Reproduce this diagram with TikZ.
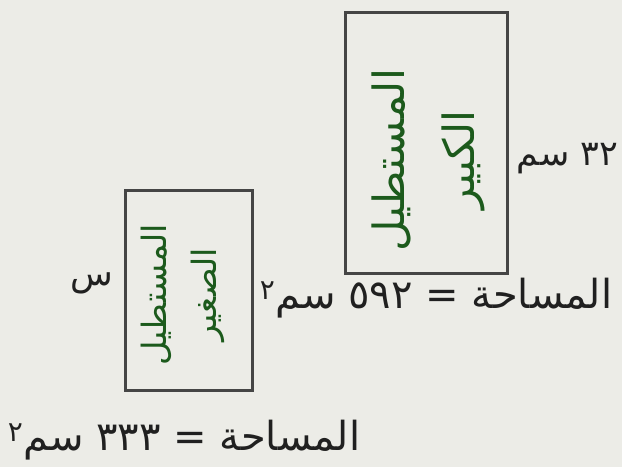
\documentclass[tikz,border=0pt]{standalone}
\usepackage{fontspec}
\newfontfamily\arabicfont[Script=Arabic]{DejaVu Sans}
\TeXXeTstate=1
\usetikzlibrary{positioning}

\definecolor{paper}{HTML}{ECECE7}
\definecolor{frame}{HTML}{454545}
\definecolor{leaf}{HTML}{1C5A1C}
\definecolor{ink}{HTML}{202020}

\begin{document}
\begin{tikzpicture}[x=1pt, y=-1pt,
    box/.style={draw=frame, line width=3pt, inner sep=0pt},
    rectname/.style={text=leaf, rotate=90, align=center, inner sep=0pt},
    lbl/.style={text=ink, inner sep=0pt, font=\arabicfont\fontsize{35}{40}\selectfont},
    area/.style={lbl, font=\arabicfont\fontsize{40}{46}\selectfont}]
  \fill[paper] (0,0) rectangle (622,467);
  % the two rectangles
  \node[box, minimum width=162pt, minimum height=261pt] (big) at (426,142.5) {};
  \node[box, minimum width=127pt, minimum height=200pt] (small) at (188.5,290) {};
  \node[rectname, font=\arabicfont\fontsize{43}{70}\selectfont] (bigname) at (428,160)
    {\beginR المستطيل\endR\\\beginR الكبير\endR};
  \node[rectname, font=\arabicfont\fontsize{33.5}{50}\selectfont] (smallname) at (183,295)
    {\beginR المستطيل\endR\\\beginR الصغير\endR};
  % side lengths
  \node[lbl, right=8pt of big, yshift=-16pt] (bigside) {\beginR\beginL ٣٢\endL{} سم\endR};
  \node[lbl, left=10pt of small, yshift=7pt] (smallside) {\beginR س\endR};
  % areas
  \node[area] (bigarea) at (436,298)
    {\beginR المساحة = \beginL ٥٩٢\endL{} سم\textsuperscript{٢}\endR};
  \node[area] (smallarea) at (184,440)
    {\beginR المساحة = \beginL ٣٣٣\endL{} سم\textsuperscript{٢}\endR};
\end{tikzpicture}
\end{document}
